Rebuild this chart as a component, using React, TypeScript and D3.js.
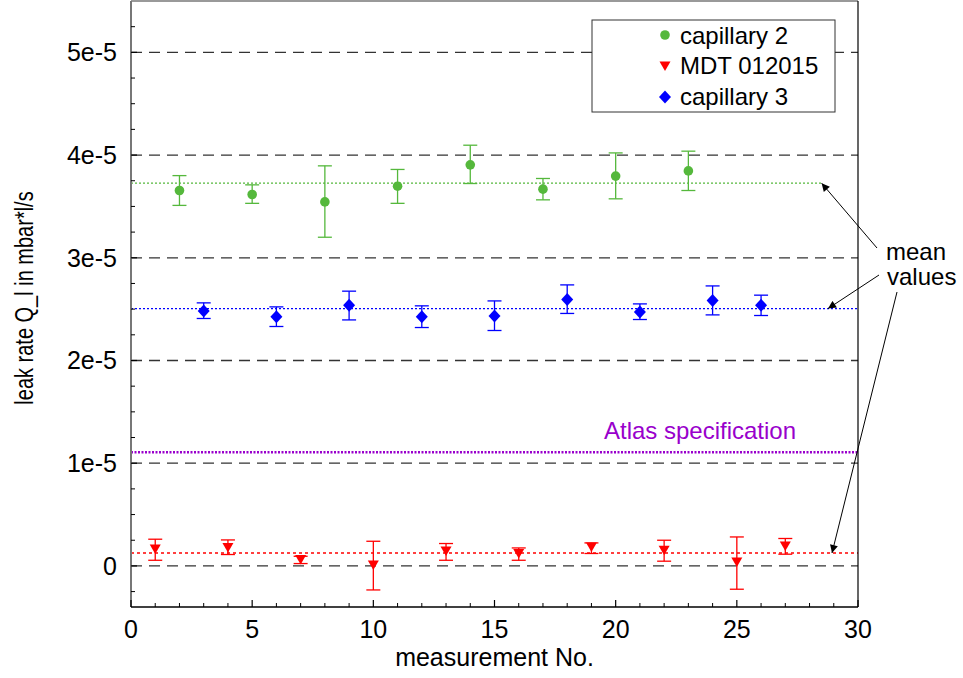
import * as d3 from "d3";

// measurement numbers and leak rates (units of 1e-5 mbar*l/s)
const cap2X = [2, 5, 8, 11, 14, 17, 20, 23];
const cap2Y = [3.655, 3.616, 3.544, 3.697, 3.905, 3.668, 3.795, 3.846];
const cap2Lo = [3.51, 3.53, 3.2, 3.53, 3.723, 3.564, 3.574, 3.655];
const cap2Hi = [3.8, 3.71, 3.895, 3.86, 4.096, 3.772, 4.021, 4.038];
const cap2Mean = 3.726;

const mdtX = [1, 4, 7, 10, 13, 16, 19, 22, 25, 27];
const mdtY = [0.165, 0.18, 0.062, 0.01, 0.146, 0.121, 0.185, 0.153, 0.039, 0.195];
const mdtLo = [0.055, 0.111, 0.023, -0.234, 0.055, 0.055, 0.121, 0.046, -0.227, 0.114];
const mdtHi = [0.26, 0.253, 0.094, 0.24, 0.218, 0.175, 0.224, 0.25, 0.282, 0.267];
const mdtMean = 0.121;

const cap3X = [3, 6, 9, 12, 15, 18, 21, 24, 26];
const cap3Y = [2.483, 2.425, 2.538, 2.425, 2.434, 2.594, 2.473, 2.584, 2.538];
const cap3Lo = [2.409, 2.331, 2.395, 2.321, 2.292, 2.458, 2.399, 2.444, 2.438];
const cap3Hi = [2.561, 2.522, 2.675, 2.532, 2.58, 2.736, 2.551, 2.726, 2.636];
const cap3Mean = 2.505;

const atlasSpec = 1.107;

const yTicks = [0, 1, 2, 3, 4, 5];
const yTickLabels = ["0", "1e-5", "2e-5", "3e-5", "4e-5", "5e-5"];
const xTicks = [0, 5, 10, 15, 20, 25, 30];

const GREEN = "#55b83c";
const RED = "#ff0000";
const BLUE = "#0000ff";
const PURPLE = "#9900cc";
const FONT = "'Liberation Sans', Arial, sans-serif";

export default function App() {
  const left = 131, right = 858, top = 1, bottom = 607;
  const x = d3.scaleLinear().domain([0, 30]).range([left, right]);
  const y = d3.scaleLinear().domain([-0.4, 5.5]).range([bottom, top]);

  const minorY = d3.range(-0.25, 5.5, 0.25).filter((v) => Math.abs(v - Math.round(v)) > 0.01);
  const minorX = d3.range(1, 30, 1).filter((v) => v % 5 !== 0);

  const errBars = (xs: number[], lo: number[], hi: number[], color: string) =>
    xs.map((v, i) => (
      <g key={"e" + i} stroke={color} strokeWidth={1.3}>
        <line x1={x(v)} x2={x(v)} y1={y(lo[i])} y2={y(hi[i])} />
        <line x1={x(v) - 7} x2={x(v) + 7} y1={y(lo[i])} y2={y(lo[i])} />
        <line x1={x(v) - 7} x2={x(v) + 7} y1={y(hi[i])} y2={y(hi[i])} />
      </g>
    ));

  const circle = (cx: number, cy: number, key: any) => <circle key={key} cx={cx} cy={cy} r={4.8} fill={GREEN} />;
  const tri = (cx: number, cy: number, key: any) => (
    <path key={key} d={`M${cx - 5.5},${cy - 4.5}L${cx + 5.5},${cy - 4.5}L${cx},${cy + 5}Z`} fill={RED} />
  );
  const diamond = (cx: number, cy: number, key: any) => (
    <path key={key} d={`M${cx},${cy - 6.5}L${cx + 6},${cy}L${cx},${cy + 6.5}L${cx - 6},${cy}Z`} fill={BLUE} />
  );

  const redY = Math.round(y(mdtMean));

  return (
    <svg width={963} height={678} style={{ position: "absolute", left: 0, top: 0, background: "#fff" }} fontFamily={FONT}>
      <defs>
        <marker id="arr" viewBox="0 0 10 10" refX="10" refY="5" markerWidth="10" markerHeight="8" orient="auto" markerUnits="userSpaceOnUse">
          <path d="M0,0L10,5L0,10Z" fill="#000" />
        </marker>
      </defs>

      {/* dashed grid */}
      {yTicks.map((v) => (
        <line key={"g" + v} x1={left} x2={right} y1={y(v)} y2={y(v)} stroke="#333" strokeWidth={1.3} strokeDasharray="11,7" />
      ))}

      {/* Atlas specification */}
      <line x1={left} x2={right} y1={y(atlasSpec)} y2={y(atlasSpec)} stroke={PURPLE} strokeWidth={2.5} strokeDasharray="2,1.5" />
      <text x={700} y={439} fill={PURPLE} fontSize={24} textAnchor="middle">Atlas specification</text>

      {/* mean lines */}
      <line x1={left} x2={x(28.5)} y1={y(cap2Mean)} y2={y(cap2Mean)} stroke={GREEN} strokeWidth={1.2} strokeDasharray="2,2" />
      <line x1={left} x2={right} y1={y(cap3Mean)} y2={y(cap3Mean)} stroke={BLUE} strokeWidth={1.3} strokeDasharray="2,2" />
      <line x1={left} x2={right} y1={redY} y2={redY} stroke={RED} strokeWidth={1.5} strokeDasharray="3,3" />

      {/* error bars */}
      {errBars(cap2X, cap2Lo, cap2Hi, GREEN)}
      {errBars(cap3X, cap3Lo, cap3Hi, BLUE)}
      {errBars(mdtX, mdtLo, mdtHi, RED)}

      {/* markers */}
      {cap2X.map((v, i) => circle(x(v), y(cap2Y[i]), "c" + i))}
      {cap3X.map((v, i) => diamond(x(v), y(cap3Y[i]), "d" + i))}
      {mdtX.map((v, i) => tri(x(v), y(mdtY[i]), "t" + i))}

      {/* frame */}
      <line x1={left} x2={right} y1={top} y2={top} stroke="#777" strokeWidth={1.5} />
      <line x1={left} x2={left} y1={top} y2={bottom} stroke="#777" strokeWidth={2} />
      <line x1={right} x2={right} y1={top} y2={bottom} stroke="#000" strokeWidth={1.2} />
      <line x1={left} x2={right} y1={bottom} y2={bottom} stroke="#000" strokeWidth={1.5} />

      {/* ticks */}
      {yTicks.map((v) => (
        <line key={"yt" + v} x1={left} x2={left + 6} y1={y(v)} y2={y(v)} stroke="#000" strokeWidth={1.2} />
      ))}
      {minorY.map((v) => (
        <line key={"ym" + v} x1={left} x2={left + 4} y1={y(v)} y2={y(v)} stroke="#000" strokeWidth={1} />
      ))}
      {xTicks.map((v) => (
        <line key={"xt" + v} x1={x(v)} x2={x(v)} y1={bottom} y2={bottom - 7} stroke="#000" strokeWidth={1.2} />
      ))}
      {minorX.map((v) => (
        <line key={"xm" + v} x1={x(v)} x2={x(v)} y1={bottom} y2={bottom - 4} stroke="#000" strokeWidth={1} />
      ))}

      {/* tick labels */}
      {yTicks.map((v, i) => (
        <text key={"yl" + v} x={117} y={y(v) + 9} fontSize={25} textAnchor="end">{yTickLabels[i]}</text>
      ))}
      {xTicks.map((v) => (
        <text key={"xl" + v} x={x(v)} y={638} fontSize={25} textAnchor="middle">{v}</text>
      ))}

      {/* axis titles */}
      <text x={(left + right) / 2} y={666} fontSize={25} textAnchor="middle">measurement No.</text>
      <text transform={`translate(33,298) rotate(-90) scale(0.8,1)`} fontSize={25} textAnchor="middle">leak rate Q_l in mbar*l/s</text>

      {/* legend */}
      <rect x={592} y={20} width={243} height={92} fill="#fff" stroke="#333" strokeWidth={1} />
      {circle(665, 35, "lg1")}
      <text x={680} y={44} fontSize={24}>capillary 2</text>
      {tri(665, 66, "lg2")}
      <text x={680} y={74} fontSize={24}>MDT 012015</text>
      {diamond(665, 97, "lg3")}
      <text x={680} y={105} fontSize={24}>capillary 3</text>

      {/* mean value annotation */}
      <text x={886} y={260} fontSize={24}>mean</text>
      <text x={887} y={285} fontSize={24}>values</text>
      <line x1={877} y1={248} x2={x(28.5)} y2={y(cap2Mean)} stroke="#000" strokeWidth={1} markerEnd="url(#arr)" />
      <line x1={879} y1={275} x2={828} y2={y(cap3Mean)} stroke="#000" strokeWidth={1} markerEnd="url(#arr)" />
      <line x1={897} y1={292} x2={832} y2={redY} stroke="#000" strokeWidth={1} markerEnd="url(#arr)" />
    </svg>
  );
}
